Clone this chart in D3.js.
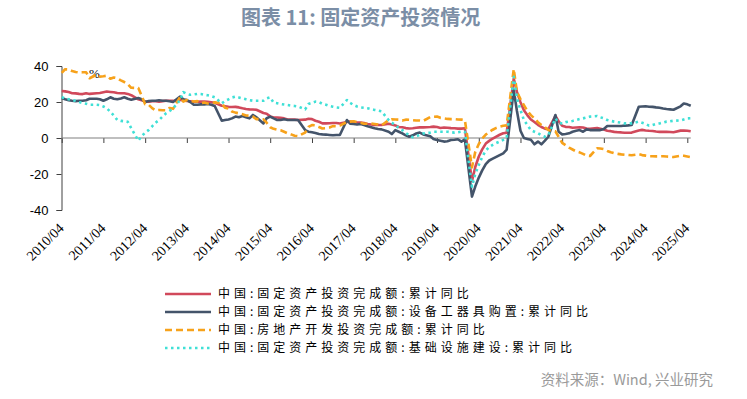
<!DOCTYPE html>
<html>
<head>
<meta charset="utf-8">
<script src="https://cdn.jsdelivr.net/npm/d3@7"></script>
<style>
  body { margin: 0; background: #fff; }
  svg { display: block; }
</style>
</head>
<body>
<div id="chart"></div>
<script>
const chartWidth = 747;
const chartHeight = 399;

// Monthly cumulative YoY (%), Jan is not published (Jan-Feb reported together)
// 2010/04 .. 2025/05, one row per year
const fixedAsset = [
  26.1, 25.9, 25.5, 24.9, 24.8, 24.5, 24.4, 24.9, 24.5,
  24.9, 25.0, 25.4, 25.8, 25.6, 25.4, 25.0, 24.9, 24.9, 24.5, 23.8,
  21.5, 20.9, 20.2, 20.1, 20.4, 20.4, 20.2, 20.5, 20.7, 20.7, 20.6,
  21.2, 20.9, 20.6, 20.4, 20.1, 20.1, 20.3, 20.2, 20.1, 19.9, 19.6,
  17.9, 17.6, 17.3, 17.2, 17.3, 17.0, 16.5, 16.1, 15.9, 15.8, 15.7,
  13.9, 13.5, 12.0, 11.4, 11.4, 11.2, 10.9, 10.3, 10.2, 10.2, 10.0,
  10.2, 10.7, 10.5, 9.6, 9.0, 8.1, 8.1, 8.2, 8.3, 8.3, 8.1,
  8.9, 9.2, 8.9, 8.6, 8.6, 8.3, 7.8, 7.5, 7.3, 7.2, 7.2,
  7.9, 7.5, 7.0, 6.1, 6.0, 5.5, 5.3, 5.4, 5.7, 5.9, 5.9,
  6.1, 6.3, 6.1, 5.6, 5.8, 5.7, 5.5, 5.4, 5.2, 5.2, 5.4,
  -24.0, -16.1, -10.3, -6.3, -3.1, -1.6, -0.3, 0.8, 1.8, 2.6, 2.9,
  33.0, 25.6, 19.9, 15.4, 12.6, 10.3, 8.9, 7.3, 6.1, 5.2, 4.9,
  12.2, 9.3, 6.8, 6.2, 6.1, 5.7, 5.8, 5.9, 5.8, 5.3, 5.1,
  5.5, 5.1, 4.7, 4.0, 3.8, 3.4, 3.2, 3.1, 2.9, 2.9, 3.0,
  4.2, 4.5, 4.2, 4.0, 3.9, 3.6, 3.4, 3.4, 3.4, 3.3, 3.2,
  4.1, 4.2, 4.0, 3.7
];

const equipment = [
  22.2, 21.5, 21.0, 20.7, 20.5, 20.7, 20.7, 21.0, 21.8,
  21.8, 21.5, 20.7, 21.5, 22.6, 21.8, 21.5, 22.0, 22.6, 21.8, 21.3,
  22.2, 21.5, 20.0, 20.5, 20.7, 20.7, 21.0, 20.7, 20.7, 20.4, 20.0,
  23.0, 21.5, 21.1, 20.0, 18.5, 18.5, 18.7, 18.7, 18.9, 18.5, 17.8,
  9.6, 10.0, 10.3, 10.9, 11.9, 11.5, 12.2, 11.5, 10.9, 12.8, 11.5,
  8.1, 11.0, 11.9, 10.9, 10.0, 10.0, 10.4, 10.0, 10.0, 10.0, 10.0,
  4.4, 3.5, 3.2, 2.8, 2.2, 2.0, 1.9, 1.7, 1.5, 1.7, 1.7,
  10.0, 8.0, 7.8, 7.5, 7.8, 7.2, 6.5, 6.0, 5.4, 5.0, 4.8,
  3.5, 2.2, 4.4, 3.5, 2.6, 1.5, 0.7, 1.5, 2.5, 3.0, 2.0,
  1.0, -0.5, -1.1, -1.5, -2.0, -1.8, -1.1, -1.0, -0.7, -2.0, -0.7,
  -32.6, -27.0, -22.0, -18.0, -14.5, -12.5, -11.5, -10.5, -9.5, -8.5, -6.5,
  26.7, 15.0, 4.0, 0.0, -0.5, -1.0, -3.5, -2.0, -3.5, -1.5, 0.7,
  12.8, 3.5, 2.0, 2.2, 2.6, 3.5, 4.0, 4.4, 3.5, 4.8, 4.4,
  4.4, 4.4, 5.0, 6.7, 6.7, 6.7, 6.7, 6.7, 6.9, 7.0, 7.2,
  17.4, 17.5, 17.6, 17.4, 17.3, 17.0, 16.8, 16.4, 16.1, 15.9, 15.7,
  17.6, 19.2, 18.7, 17.9
];

const realEstate = [
  36.2, 38.2, 38.1, 37.2, 36.7, 36.4, 36.5, 36.5, 33.2,
  35.2, 34.1, 34.3, 34.6, 32.9, 33.6, 33.2, 32.0, 31.1, 29.9, 27.9,
  27.8, 23.5, 18.7, 18.5, 16.6, 15.4, 15.6, 15.4, 15.4, 16.7, 16.2,
  22.8, 20.2, 21.1, 20.6, 20.3, 20.5, 19.3, 19.7, 19.2, 19.5, 19.8,
  19.3, 16.8, 16.4, 14.7, 14.1, 13.7, 13.2, 12.5, 12.4, 11.9, 10.5,
  10.4, 8.5, 6.0, 5.1, 4.6, 4.3, 3.5, 2.6, 2.0, 1.3, 1.0,
  3.0, 6.2, 7.2, 7.0, 6.1, 5.3, 5.4, 5.8, 6.6, 6.5, 6.9,
  8.9, 9.1, 9.3, 8.8, 8.5, 7.9, 7.9, 8.1, 7.8, 7.5, 7.0,
  9.9, 10.4, 10.3, 10.2, 9.7, 10.2, 10.1, 9.9, 9.7, 9.7, 9.5,
  11.6, 11.8, 11.9, 11.2, 10.9, 10.6, 10.5, 10.5, 10.3, 10.2, 9.9,
  -16.3, -7.7, -3.3, -0.3, 1.9, 3.4, 4.6, 5.6, 6.3, 6.8, 7.0,
  38.3, 25.6, 21.6, 18.3, 15.0, 12.7, 10.9, 8.8, 7.2, 6.0, 4.4,
  3.7, 0.7, -2.7, -4.0, -5.4, -6.4, -7.4, -8.0, -8.8, -9.8, -10.0,
  -5.7, -5.8, -6.2, -7.2, -7.9, -8.5, -8.8, -9.1, -9.3, -9.4, -9.6,
  -9.0, -9.5, -9.8, -10.1, -10.1, -10.2, -10.2, -10.1, -10.3, -10.4, -10.6,
  -9.8, -9.9, -10.3, -10.7
];

const infrastructure = [
  22.6, 22.0, 21.5, 21.0, 20.7, 20.0, 19.4, 19.0, 18.5,
  18.5, 18.3, 17.5, 16.5, 14.6, 12.5, 10.0, 9.5, 9.3, 9.0, 5.4,
  -1.5, 1.0, 3.0, 4.4, 6.5, 8.5, 10.0, 12.0, 13.7, 15.0, 16.5,
  21.0, 25.5, 24.5, 24.0, 24.2, 24.5, 24.4, 24.0, 23.7, 23.3, 22.6,
  19.3, 20.5, 21.5, 22.5, 23.0, 22.5, 22.0, 21.5, 21.0, 20.7, 20.7,
  20.7, 22.0, 22.6, 19.6, 19.3, 18.9, 18.6, 18.3, 18.0, 17.8, 17.5,
  15.9, 18.9, 19.5, 20.2, 20.0, 19.0, 18.5, 17.8, 17.4, 17.0, 16.8,
  21.1, 19.5, 18.3, 17.5, 17.0, 16.8, 16.5, 16.0, 15.6, 15.2, 14.8,
  10.0, 8.5, 7.2, 5.5, 4.4, 2.8, 1.5, 0.4, 1.0, 1.7, 2.5,
  3.0, 3.5, 3.5, 3.5, 3.5, 3.5, 3.2, 3.0, 3.2, 3.5, 3.5,
  -27.0, -20.0, -15.0, -10.5, -7.0, -5.0, -3.8, -2.8, -2.0, -1.0, 0.0,
  34.0, 22.0, 15.6, 10.0, 7.2, 4.4, 3.5, 2.6, 1.5, 0.7, 1.5,
  10.9, 8.5, 8.1, 8.8, 9.1, 9.5, 10.0, 10.5, 10.9, 11.4, 11.9,
  12.2, 11.5, 10.9, 10.0, 9.5, 9.1, 8.8, 8.5, 8.1, 8.1, 8.1,
  9.1, 8.5, 7.8, 6.9, 7.2, 7.8, 8.1, 8.6, 9.1, 9.3, 9.6,
  9.8, 10.3, 10.9, 11.0
];

const seriesNames = [
  '中国:固定资产投资完成额:累计同比',
  '中国:固定资产投资完成额:设备工器具购置:累计同比',
  '中国:房地产开发投资完成额:累计同比',
  '中国:固定资产投资完成额:基础设施建设:累计同比'
];

const tickLabels = ['2010/04', '2011/04', '2012/04', '2013/04', '2014/04', '2015/04',
  '2016/04', '2017/04', '2018/04', '2019/04', '2020/04', '2021/04', '2022/04',
  '2023/04', '2024/04', '2025/04'];

const yTicks = [-40, -20, 0, 20, 40];

// Month dates for the x axis (January skipped)
const months = [];
for (let yr = 2010; yr <= 2025; yr++) {
  for (let mo = 2; mo <= 12; mo++) {
    if ((yr === 2010 && mo < 4) || (yr === 2025 && mo > 5)) continue;
    months.push(new Date(yr, mo - 1, 1));
  }
}
const parseTick = d3.timeParse('%Y/%m');
const tickDates = tickLabels.map(parseTick);

const styles = [
  { color: '#d1495b', dash: null },
  { color: '#44546a', dash: null },
  { color: '#f7a21b', dash: '7,4' },
  { color: '#3fe0d6', dash: '2.5,3.5' }
];
const allSeries = [fixedAsset, equipment, realEstate, infrastructure];

const svg = d3.select('#chart')
  .append('svg')
  .attr('width', chartWidth)
  .attr('height', chartHeight)
  .style('font-family', '"Noto Sans CJK SC", sans-serif');

svg.append('rect')
  .attr('width', chartWidth)
  .attr('height', chartHeight)
  .attr('fill', '#fff');

// Title
svg.append('text')
  .attr('x', 241)
  .attr('y', 25)
  .attr('font-size', 20)
  .attr('font-weight', 'bold')
  .attr('fill', '#7b8ea6')
  .text('图表 11: 固定资产投资情况');

const x = d3.scaleTime()
  .domain([tickDates[0], tickDates[tickDates.length - 1]])
  .range([61.7, 687.3]);

const y = d3.scaleLinear()
  .domain([-40, 40])
  .range([210, 66]);

// Y axis
const yAxis = svg.append('g')
  .attr('transform', 'translate(61.5,0)')
  .call(d3.axisLeft(y).tickValues(yTicks).tickSize(5).tickPadding(8)
    .tickFormat(d => String(d)));
yAxis.selectAll('path, line').attr('stroke', '#404040');
yAxis.selectAll('text')
  .attr('font-family', '"Liberation Sans", Arial, sans-serif')
  .attr('font-size', 13)
  .attr('fill', '#000');

// X axis along zero line
const xAxis = svg.append('g')
  .attr('transform', `translate(0,${y(0)})`)
  .call(d3.axisBottom(x).tickValues(tickDates).tickSize(5).tickFormat(''));
xAxis.select('.domain').remove();
xAxis.selectAll('line').attr('stroke', '#404040');
xAxis.append('line')
  .attr('x1', x(months[0]))
  .attr('x2', x(months[months.length - 1]))
  .attr('stroke', '#808080')
  .attr('stroke-width', 1.2);

// Rotated date labels under the plot
svg.append('g')
  .selectAll('text')
  .data(tickDates)
  .enter()
  .append('text')
  .attr('transform', d => `translate(${x(d) + 3},229) rotate(-45)`)
  .attr('text-anchor', 'end')
  .attr('font-family', '"Liberation Serif", "Times New Roman", serif')
  .attr('font-size', 14)
  .attr('fill', '#000')
  .text((d, i) => tickLabels[i]);

// unit
svg.append('text')
  .attr('x', 89)
  .attr('y', 78)
  .attr('font-family', '"Liberation Serif", serif')
  .attr('font-size', 13)
  .text('%');

// Series lines
const line = d3.line()
  .x((d, i) => x(months[i]))
  .y(d => y(d));

allSeries.forEach(function (values, k) {
  svg.append('path')
    .datum(values)
    .attr('fill', 'none')
    .attr('stroke', styles[k].color)
    .attr('stroke-width', 2.6)
    .attr('stroke-dasharray', styles[k].dash)
    .attr('stroke-linejoin', 'round')
    .attr('d', line);
});

// Legend
const legend = svg.append('g');
seriesNames.forEach(function (name, k) {
  const ly = 294 + k * 18;
  legend.append('line')
    .attr('x1', 165).attr('x2', 211)
    .attr('y1', ly).attr('y2', ly)
    .attr('stroke', styles[k].color)
    .attr('stroke-width', 2.6)
    .attr('stroke-dasharray', styles[k].dash);
  legend.append('text')
    .attr('x', 218)
    .attr('y', ly)
    .attr('dy', '0.36em')
    .attr('font-size', 12)
    .attr('letter-spacing', 4)
    .attr('fill', '#000')
    .text(name);
});

// Source note
svg.append('text')
  .attr('x', 713)
  .attr('y', 385)
  .attr('text-anchor', 'end')
  .attr('font-size', 14.5)
  .attr('fill', '#9a9a9a')
  .text('资料来源：Wind, 兴业研究');
</script>
</body>
</html>
